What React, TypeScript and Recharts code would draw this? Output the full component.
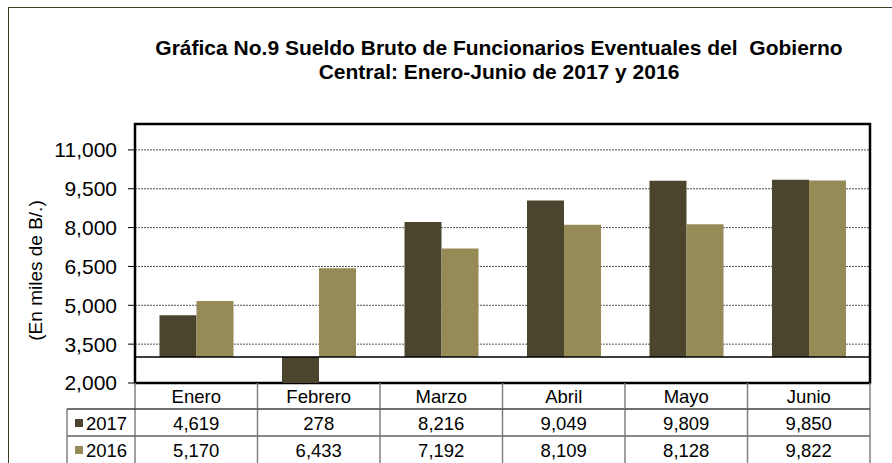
import React from 'react';
import { BarChart, Bar, XAxis, YAxis, CartesianGrid, ReferenceLine, ReferenceArea } from 'recharts';

const categories = ['Enero', 'Febrero', 'Marzo', 'Abril', 'Mayo', 'Junio'];
const values2017 = [4619, 278, 8216, 9049, 9809, 9850];
const values2016 = [5170, 6433, 7192, 8109, 8128, 9822];
const yTicks = [2000, 3500, 5000, 6500, 8000, 9500, 11000];
const yDomain = [2000, 12000];
const baseline = 3000;
const seriesNames = ['2017', '2016'];
const colors = ['#4b452d', '#968b56'];

const data = categories.map((c, i) => ({ name: c, v2017: values2017[i], v2016: values2016[i] }));

const FONT = '"Liberation Sans", Arial, sans-serif';
const fmt = (v: number) => v.toLocaleString('en-US');
const TFS = 18.5;

const TableTick = (props: any) => {
  const { x, y, payload, index, width } = props;
  const w = typeof width === 'number' && width > 0 ? width : 735;
  const band = w / categories.length;
  const left = x - band / 2;
  const right = x + band / 2;
  const r1 = y + 26;
  const r2 = y + 53;
  const r3 = y + 82;
  const vals = [values2017[index], values2016[index]];
  const legendW = 68;
  return (
    <g>
      <line x1={left} x2={left} y1={y} y2={r3} stroke="#808080" strokeWidth={1.5} />
      {index === categories.length - 1 && (
        <line x1={right} x2={right} y1={y} y2={r3} stroke="#808080" strokeWidth={1.5} />
      )}
      <line x1={index === 0 ? left - legendW : left} x2={right} y1={r1} y2={r1} stroke="#404040" strokeWidth={1.5} />
      <line x1={index === 0 ? left - legendW : left} x2={right} y1={r2} y2={r2} stroke="#606060" strokeWidth={1.5} />
      <text x={x} y={y + 20} textAnchor="middle" fontSize={TFS} fontFamily={FONT} fill="#000">
        {payload.value}
      </text>
      {vals.map((v, k) => (
        <text key={k} x={x} y={y + 47 + k * 27} textAnchor="middle" fontSize={TFS} fontFamily={FONT} fill="#000">
          {fmt(v)}
        </text>
      ))}
      {index === 0 && (
        <g>
          <line x1={left - legendW} x2={left - legendW} y1={r1} y2={r3} stroke="#808080" strokeWidth={1.5} />
          {seriesNames.map((s, k) => (
            <g key={s}>
              <rect x={left - legendW + 8} y={r1 + 10 + k * 27} width={8} height={8} fill={colors[k]} />
              <text x={left - legendW + 19} y={y + 47 + k * 27} fontSize={TFS} fontFamily={FONT} fill="#000">
                {s}
              </text>
            </g>
          ))}
        </g>
      )}
    </g>
  );
};

const YLabel = (props: any) => {
  const vb = props.viewBox || { x: 0, y: 124, width: 135, height: 259 };
  const cx = vb.x + 35;
  const cy = vb.y + vb.height / 2 + 17;
  return (
    <text
      x={cx}
      y={cy}
      transform={`rotate(-90, ${cx}, ${cy})`}
      textAnchor="middle"
      dominantBaseline="central"
      fontSize={19}
      fontFamily={FONT}
      fill="#000"
    >
      (En miles de B/.)
    </text>
  );
};

export default function App() {
  return (
    <div style={{ position: 'absolute', left: 0, top: 0, width: 892, height: 463, background: '#fff', overflow: 'hidden' }}>
      <div
        style={{
          position: 'absolute',
          left: 8,
          top: 7,
          width: 900,
          height: 470,
          borderLeft: '1.5px solid #3f3d2a',
          borderTop: '1.5px solid #3f3d2a',
        }}
      />
      <div
        style={{
          position: 'absolute',
          left: 0,
          width: 998,
          top: 36,
          textAlign: 'center',
          fontFamily: FONT,
          fontWeight: 'bold',
          fontSize: 21,
          lineHeight: '24px',
          color: '#000',
          whiteSpace: 'pre',
        }}
      >
        {'Gráfica No.9 Sueldo Bruto de Funcionarios Eventuales del  Gobierno\nCentral: Enero-Junio de 2017 y 2016'}
      </div>
      <div style={{ position: 'absolute', left: 0, top: 0 }}>
        <BarChart
          width={892}
          height={463}
          data={data}
          margin={{ top: 124, right: 22, bottom: 0, left: 0 }}
          barCategoryGap="20%"
          barGap={0}
        >
          <CartesianGrid horizontal vertical={false} stroke="#555" strokeDasharray="2 1" />
          <XAxis
            dataKey="name"
            height={80}
            axisLine={false}
            tickLine={false}
            tickSize={0}
            tickMargin={0}
            interval={0}
            tick={<TableTick />}
          />
          <YAxis
            width={135}
            domain={yDomain}
            ticks={yTicks}
            allowDataOverflow
            interval={0}
            tickFormatter={fmt}
            tick={{ fontSize: 21, fontFamily: FONT, fill: '#000' }}
            tickSize={7}
            tickMargin={11}
            axisLine={false}
            tickLine={{ stroke: '#000' }}
            label={<YLabel />}
          />
          <Bar dataKey={(d: any) => [baseline, d.v2017]} name="2017" fill={colors[0]} isAnimationActive={false} />
          <Bar dataKey={(d: any) => [baseline, d.v2016]} name="2016" fill={colors[1]} isAnimationActive={false} />
          <ReferenceLine y={baseline} stroke="#000" strokeWidth={1.5} />
          <ReferenceArea y1={yDomain[0]} y2={yDomain[1]} fill="none" stroke="#000" strokeWidth={2.5} ifOverflow="visible" />
        </BarChart>
      </div>
    </div>
  );
}
